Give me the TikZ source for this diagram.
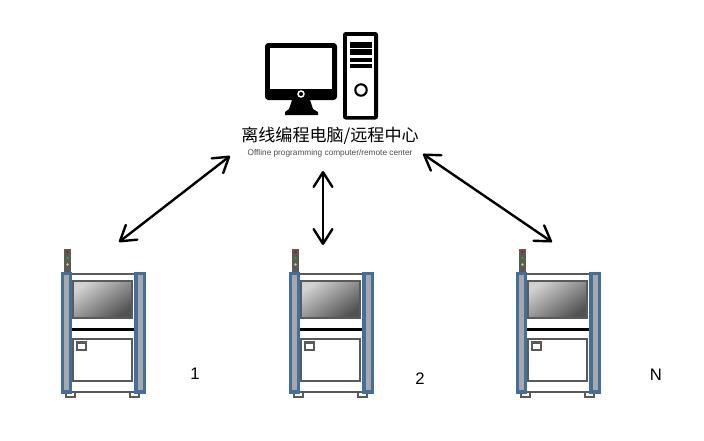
\documentclass[tikz,border=0pt]{standalone}
\usepackage{fontspec}
\setmainfont{Liberation Sans}
\newfontfamily\cjk{Noto Sans CJK SC}
\usetikzlibrary{arrows.meta}
\definecolor{railblue}{HTML}{41709F}
\definecolor{railgrey}{HTML}{A9A7A8}
\definecolor{framegrey}{HTML}{5A5A5A}
\tikzset{
  link/.style={draw=black,line width=1.8pt,line cap=round,{Straight Barb[length=11pt,width=14pt,line width=1.8pt,round]}-{Straight Barb[length=11pt,width=14pt,line width=1.8pt,round]}},
  numlabel/.style={font=\fontsize{12.5pt}{14pt}\selectfont,inner sep=0pt},
  frameline/.style={draw=framegrey,line width=2pt},
  rail/.style={draw=railblue,fill=railgrey,line width=2.4pt},
  machine/.pic={
    \fill[framegrey] (2,-24) rectangle (9,0);
    \fill[red!85!black] (5.5,-21) circle (1.3);
    \fill[green!75!black] (5.5,-15) circle (1.3);
    \fill[yellow!85!black] (5.5,-8.5) circle (1.3);
    \draw[frameline,fill=white] (4,119) rectangle (13,124);
    \draw[frameline,fill=white] (68,119) rectangle (77,124);
    \draw[frameline] (9,1) -- (73,1);
    \draw[frameline] (9,119) -- (73,119);
    \shade[top color=white!82!black,bottom color=white!32!black,shading angle=35] (11,8) rectangle (70,45);
    \draw[frameline] (11,8) rectangle (70,45);
    \fill[black] (9,54.5) rectangle (73,57.5);
    \draw[frameline] (11,66) rectangle (70,108);
    \draw[frameline] (15,69.5) rectangle (24,77);
    \draw[rail] (0.5,0.5) rectangle (8.5,119);
    \draw[rail] (74,0.5) rectangle (82.5,119);
  }
}
\begin{document}
\begin{tikzpicture}[x=0.75pt,y=-0.75pt]
\useasboundingbox (0,0) rectangle (704,440);
% monitor
\fill[black,rounded corners=2.5pt] (265,43) rectangle (337,100);
\fill[white] (270,47.5) rectangle (332,89);
\fill[black] (292,100) -- (310,100) -- (313,109) -- (318,112) -- (318,115) -- (285,115) -- (285,112) -- (289,109) -- cycle;
\draw[white,line width=1.1pt] (301,94) circle (3);
% tower
\fill[black,rounded corners=2pt] (343,32) rectangle (378,119.5);
\fill[white] (347,36) rectangle (374,115.5);
\fill[black] (350,42) rectangle (372,48);
\fill[black] (350,49) rectangle (372,55);
\fill[black] (350,58) rectangle (372,62);
\fill[black] (350,64) rectangle (372,68);
\draw[black,line width=1.6pt] (361,90) circle (5.7);
% captions
\node[inner sep=0pt,font=\cjk\fontsize{12.8pt}{14pt}\selectfont] (title) at (330,136) {离线编程电脑/远程中心};
\node[inner sep=0pt,font=\fontsize{6.2pt}{7pt}\selectfont,text=black!70] (subtitle) at (330,153) {Offline programming computer/remote center};
% machines
\path (62,273) pic {machine};
\path (290,273) pic {machine};
\path (517,273) pic {machine};
% labels
\node[numlabel] (n1) at (195,374) {1};
\node[numlabel] (n2) at (420,379) {2};
\node[numlabel] (n3) at (656,375) {N};
% connectors
\coordinate (a1) at (230,156); \coordinate (b1) at (119,242);
\coordinate (a2) at (323,171); \coordinate (b2) at (323,245);
\coordinate (a3) at (423,154); \coordinate (b3) at (552,242);
\draw[link] (a1) -- (b1);
\draw[link] (a2) -- (b2);
\draw[link] (a3) -- (b3);
\end{tikzpicture}
\end{document}
